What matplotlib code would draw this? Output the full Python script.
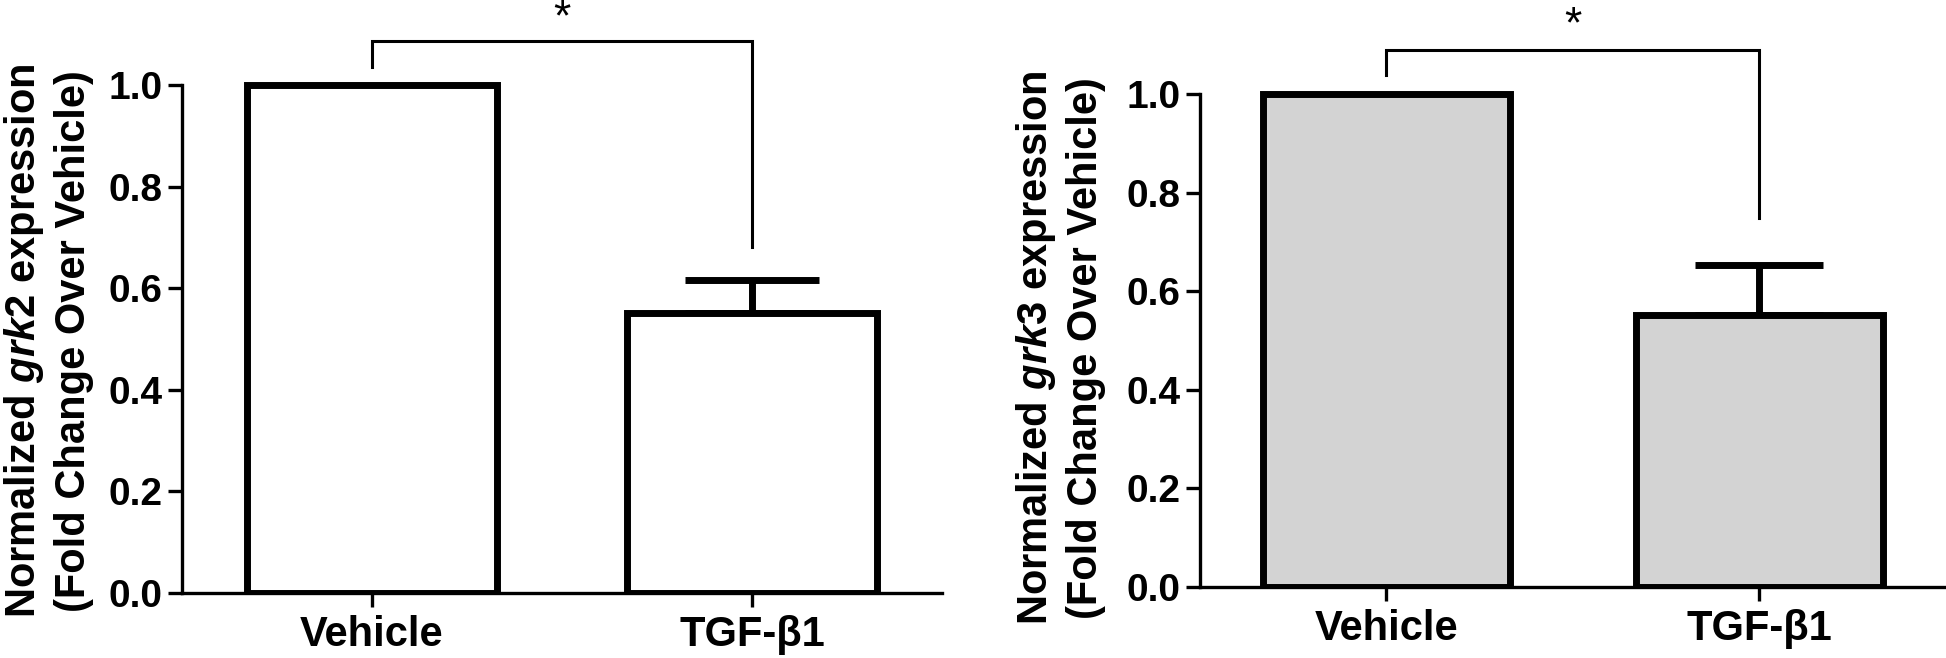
import matplotlib
matplotlib.use("Agg")
import matplotlib.pyplot as plt

plt.rcParams['font.family'] = ['Liberation Sans', 'DejaVu Sans']
plt.rcParams['font.weight'] = 'bold'
plt.rcParams['mathtext.fontset'] = 'custom'
plt.rcParams['mathtext.it'] = 'Liberation Sans:italic:bold'
plt.rcParams['mathtext.rm'] = 'Liberation Sans:bold'

groups = ['Vehicle', 'TGF-β1']
grk2_mean = [1.0, 0.551]
grk2_sem = [0.0, 0.066]
grk3_mean = [1.0, 0.552]
grk3_sem = [0.0, 0.101]
genes = ['grk2', 'grk3']

# bracket: left leg bottom, top, right leg bottom, star baseline
grk2_bracket = [1.035, 1.087, 0.681, 1.108]
grk3_bracket = [1.039, 1.089, 0.748, 1.115]

fig = plt.figure(figsize=(19.46, 6.58), dpi=100)
ax1 = fig.add_axes([0.0935, 0.0988, 0.3906, 0.8955])
ax2 = fig.add_axes([0.6166, 0.1079, 0.3834, 0.869])

panels = [
    (ax1, grk2_mean, grk2_sem, grk2_bracket, 'white', 48, -0.176, 0.428, genes[0]),
    (ax2, grk3_mean, grk3_sem, grk3_bracket, '#d3d3d3', 46, -0.188, 0.418, genes[1]),
]

for ax, mean, sem, br, fc, cap, lx, ly, gene in panels:
    x = range(len(groups))
    ax.bar(x, mean, width=0.66, color=fc, edgecolor='black', linewidth=5, zorder=3)
    ax.errorbar([1], [mean[1]], yerr=[[0], [sem[1]]], fmt='none', ecolor='black',
                elinewidth=5, capsize=cap, capthick=5, zorder=2)
    ax.plot([0, 0, 1, 1], [br[0], br[1], br[1], br[2]], color='black', lw=2.2,
            solid_joinstyle='miter', clip_on=False)
    ax.text(0.5, br[3], '*', ha='center', va='baseline', fontsize=32,
            fontweight='normal', clip_on=False)

    ax.set_xlim(-0.5, 1.5)
    ax.set_ylim(0, 1.16)
    ax.set_xticks(list(x))
    ax.set_xticklabels(groups)
    ax.set_yticks([0.0, 0.2, 0.4, 0.6, 0.8, 1.0])
    ax.set_yticklabels(['0.0', '0.2', '0.4', '0.6', '0.8', '1.0'])
    ax.tick_params(axis='both', length=10, width=2.4)
    ax.tick_params(axis='y', labelsize=28, pad=4)
    ax.tick_params(axis='x', labelsize=30, pad=6)
    for s in ['top', 'right']:
        ax.spines[s].set_visible(False)
    ax.spines['left'].set_bounds(0, 1.0)
    ax.spines['left'].set_linewidth(2.4)
    ax.spines['bottom'].set_linewidth(2.4)
    ax.patch.set_visible(False)

    ax.text(lx, ly, 'Normalized $\\mathit{' + gene + '}$ expression\n(Fold Change Over Vehicle)',
            transform=ax.transAxes, rotation=90, ha='center', va='center',
            multialignment='center', fontsize=30, fontweight='bold', linespacing=1.25)

fig.savefig('out.png', dpi=100)
